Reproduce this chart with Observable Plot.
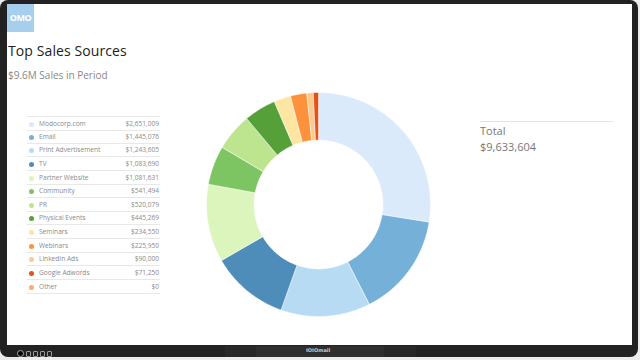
<!DOCTYPE html>
<html>
<head>
<meta charset="utf-8">
<script src="https://cdn.jsdelivr.net/npm/d3@7"></script>
<script src="https://cdn.jsdelivr.net/npm/@observablehq/plot@0.6"></script>
<style>
  html, body { margin: 0; padding: 0; width: 640px; height: 360px; background: #ececec; overflow: hidden; font-family: "Open Sans", sans-serif; }
  #frame { position: absolute; left: 0; top: 0; width: 638px; height: 357px; background: #222; border-radius: 8px; }
  #screen { position: absolute; left: 7px; top: 4px; width: 625px; height: 341px; background: #fff; }
  #logo { position: absolute; left: 0; top: 0; width: 27px; height: 28px; background: #a6cfee; color: #fff; font: bold 9px "Open Sans", sans-serif; letter-spacing: -0.5px; line-height: 28px; text-align: center; }
  #title { position: absolute; left: 1px; top: 37px; font: 14px "Open Sans", sans-serif; color: #222; letter-spacing: 0.1px; }
  #subtitle { position: absolute; left: 1px; top: 64px; font: 10px "Open Sans", sans-serif; color: #888; }
  .row { position: absolute; left: 20px; width: 133px; height: 13px; border-bottom: 1px solid #e8e8e8; font: 6.6px "Open Sans", sans-serif; color: #8a8a8a; }
  .row .dot { position: absolute; left: 2px; top: 5px; width: 5px; height: 5px; border-radius: 50%; }
  .row .lab { position: absolute; left: 12px; top: 2px; }
  .row .val { position: absolute; right: 1px; top: 2px; }
  #chart { position: absolute; left: 192px; top: 81px; }
  #totline { position: absolute; left: 473px; top: 117px; width: 133px; border-top: 1px solid #e3e3e3; }
  #totlab { position: absolute; left: 473px; top: 119px; font: 11px "Open Sans", sans-serif; color: #777; }
  #totval { position: absolute; left: 473px; top: 135px; font: 11px "Open Sans", sans-serif; color: #777; }
  #dots { position: absolute; left: 17px; top: 350px; line-height: 0; }
  #dots span { display: inline-block; width: 3px; height: 4px; border: 1px solid #999; margin-right: 2px; border-radius: 1px; vertical-align: middle; }
  #dots span.first { width: 5px; height: 5px; border-radius: 50%; background: #000; border-color: #aaa; }
  #bar1 { position: absolute; left: 225px; top: 346px; width: 191px; height: 11px; background: #282828; }
  #bar2 { position: absolute; left: 256px; top: 346px; width: 128px; height: 11px; background: #2e2e2e; }
  #brand { position: absolute; left: 306px; top: 347px; font: bold 5px "DejaVu Sans", sans-serif; color: #ccc; }
</style>
</head>
<body>
<div id="frame"></div>
<div id="screen">
  <div id="logo">OMO</div>
  <div id="title">Top Sales Sources</div>
  <div id="subtitle">$9.6M Sales in Period</div>
  <div id="legend"></div>
  <div id="chart"></div>
  <div id="totline"></div>
  <div id="totlab">Total</div>
  <div id="totval"></div>
</div>
<div id="dots"><span class="first"></span><span></span><span></span><span></span><span></span></div>
<div id="bar1"></div>
<div id="bar2"></div>
<div id="brand">IOIOmail</div>
<script>
const sources = ["Modocorp.com", "Email", "Print Advertisement", "TV", "Partner Website", "Community", "PR", "Physical Events", "Seminars", "Webinars", "LinkedIn Ads", "Google Adwords", "Other"];
const sales = [2651009, 1445076, 1243605, 1083690, 1081631, 541494, 520079, 445269, 234550, 225950, 90000, 71250, 0];
const colors = ["#dbeafb", "#74b0d8", "#b8dbf4", "#4e8cba", "#dcf5bd", "#7dc463", "#bde58f", "#56a03a", "#fde6a2", "#fd913c", "#fdca8e", "#e2531c", "#fdae6b"];
const totalLabel = "$9,633,604";

const fmt = d3.format("$,");

// Legend table
const legend = document.getElementById("legend");
const rowTop = 112, rowH = 13.64;
sources.forEach((s, i) => {
  const r = document.createElement("div");
  r.className = "row";
  r.style.top = (rowTop + i * rowH) + "px";
  if (i === 0) r.style.borderTop = "1px solid #e8e8e8";
  r.innerHTML = `<div class="dot" style="background:${colors[i]}"></div><div class="lab">${s}</div><div class="val">${fmt(sales[i])}</div>`;
  legend.appendChild(r);
});
document.getElementById("totval").textContent = totalLabel;

// Donut slices as polygons in unit space
const inner = 0.575, outer = 1;
const pie = d3.pie().sort(null).value(d => d.value).startAngle(0).endAngle(2 * Math.PI);
const arcs = pie(sources.map((name, i) => ({name, value: sales[i]})));
const pts = [];
for (const a of arcs) {
  if (a.endAngle - a.startAngle <= 0) continue;
  const n = Math.max(2, Math.ceil((a.endAngle - a.startAngle) / (Math.PI / 180)));
  const ring = [];
  for (let k = 0; k <= n; k++) {
    const t = a.startAngle + (a.endAngle - a.startAngle) * k / n;
    ring.push({name: a.data.name, x: outer * Math.sin(t), y: outer * Math.cos(t)});
  }
  for (let k = n; k >= 0; k--) {
    const t = a.startAngle + (a.endAngle - a.startAngle) * k / n;
    ring.push({name: a.data.name, x: inner * Math.sin(t), y: inner * Math.cos(t)});
  }
  ring.push({...ring[0]});
  pts.push(...ring);
}

const plot = Plot.plot({
  width: 238,
  height: 238,
  margin: 7,
  x: {domain: [-1, 1], axis: null},
  y: {domain: [-1, 1], axis: null},
  color: {domain: sources, range: colors},
  marks: [
    Plot.line(pts, {x: "x", y: "y", z: "name", fill: "name", stroke: "#ffffff", strokeWidth: 0.6, strokeOpacity: 0.8})
  ]
});
document.getElementById("chart").appendChild(plot);
</script>
</body>
</html>
